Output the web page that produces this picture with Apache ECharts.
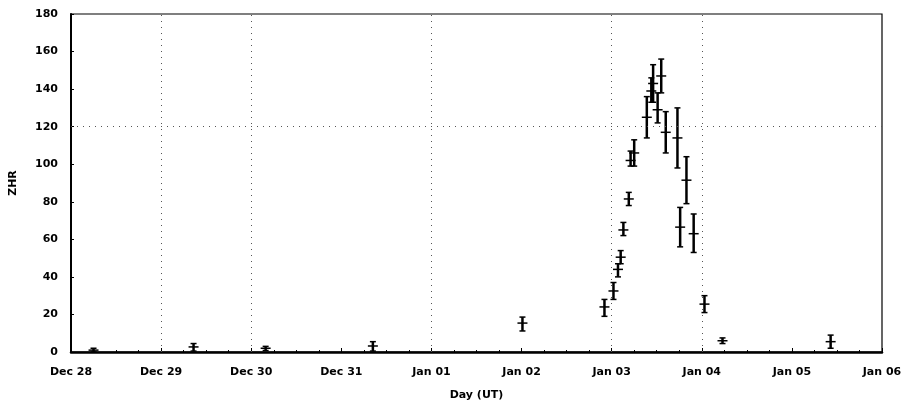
<!DOCTYPE html>
<html>
<head>
<meta charset="utf-8">
<script src="https://cdn.jsdelivr.net/npm/echarts@6/dist/echarts.min.js"></script>
<style>html,body{margin:0;padding:0;background:#fff;}#c{width:901px;height:403px;}</style>
</head>
<body>
<div id="c"></div>
<script>
// Day offsets from Dec 28 00:00 UT
var dayTickLabels = ['Dec 28','Dec 29','Dec 30','Dec 31','Jan 01','Jan 02','Jan 03','Jan 04','Jan 05','Jan 06'];
var dayOffset = [0.25, 1.36, 2.16, 3.35, 5.01, 5.92, 6.02, 6.07, 6.10, 6.13, 6.19, 6.21, 6.25, 6.39, 6.44, 6.46, 6.51, 6.55, 6.60, 6.73, 6.76, 6.83, 6.91, 7.03, 7.23, 8.43];
var zhr     = [1, 2.7, 2, 3.2, 15.4, 24, 32.5, 44, 50.5, 65, 81.5, 102, 106, 125, 139, 143, 129, 147, 117, 114, 66.5, 91.5, 63, 25.5, 6, 5.5];
var zhrLow  = [0, 0.5, 0.8, 0.5, 11.2, 19, 28, 40, 47, 62, 78, 99, 99, 114, 133, 133, 122, 138, 106, 98, 56, 79, 53, 21, 4.5, 2];
var zhrHigh = [2, 4.5, 3, 5.5, 18.6, 28, 37, 47, 54, 69, 85, 107, 113, 136, 146, 153, 138, 156, 128, 130, 77, 104, 73.5, 30, 7.5, 9];
// grid lines that show in the reference
var gridDays = [1, 2, 4, 6, 7];
var gridZhr = [120];

var pts = dayOffset.map(function(d, i){ return [d, zhr[i], zhrLow[i], zhrHigh[i]]; });
var gridMarks = gridDays.map(function(d){ return { xAxis: d }; })
  .concat(gridZhr.map(function(v){ return { yAxis: v }; }));

var chart = echarts.init(document.getElementById('c'));
var font = 'DejaVu Sans';
chart.setOption({
  animation: false,
  backgroundColor: '#fff',
  grid: { left: 71, right: 19, top: 14, bottom: 51, show: true, borderColor: '#000', borderWidth: 1.2,
          outerBoundsMode: 'none', containLabel: false },
  xAxis: {
    type: 'value', min: 0, max: 9, interval: 1,
    name: 'Day (UT)', nameLocation: 'middle', nameGap: 38,
    nameTextStyle: { fontFamily: font, fontSize: 11, fontWeight: 'bold', color: '#000' },
    axisLine: { lineStyle: { color: '#000', width: 2.5 } },
    axisTick: { inside: true, length: 4, lineStyle: { color: '#000' } },
    minorTick: { show: true, splitNumber: 4, length: 2, lineStyle: { color: '#000' } },
    axisLabel: { fontFamily: font, fontSize: 11, fontWeight: 'bold', color: '#000', margin: 15,
      formatter: function(v){ return dayTickLabels[Math.round(v)] || ''; } },
    splitLine: { show: false }
  },
  yAxis: {
    type: 'value', min: 0, max: 180, interval: 20,
    name: 'ZHR', nameLocation: 'middle', nameGap: 52, nameRotate: 90,
    nameTextStyle: { fontFamily: font, fontSize: 11, fontWeight: 'bold', color: '#000' },
    axisLine: { show: true, lineStyle: { color: '#000', width: 2 } },
    axisTick: { show: true, inside: true, length: 3, lineStyle: { color: '#000' } },
    axisLabel: { fontFamily: font, fontSize: 11, fontWeight: 'bold', color: '#000', margin: 13 },
    splitLine: { show: false }
  },
  series: [{
    type: 'custom',
    data: pts,
    encode: { x: 0, y: [1, 2, 3] },
    markLine: {
      silent: true, symbol: 'none', label: { show: false },
      lineStyle: { type: [1, 5], color: '#555', width: 1 },
      data: gridMarks
    },
    renderItem: function(params, api){
      var x = api.value(0);
      var c = api.coord([x, api.value(1)]);
      var lo = api.coord([x, api.value(2)]);
      var hi = api.coord([x, api.value(3)]);
      var cap = 3, tick = 5;
      var st = { stroke: '#000', lineWidth: 1.5 };
      return { type: 'group', children: [
        { type: 'line', shape: { x1: c[0], y1: hi[1], x2: c[0], y2: lo[1] }, style: { stroke: '#000', lineWidth: 2.5 } },
        { type: 'line', shape: { x1: c[0]-cap, y1: hi[1], x2: c[0]+cap, y2: hi[1] }, style: st },
        { type: 'line', shape: { x1: c[0]-cap, y1: lo[1], x2: c[0]+cap, y2: lo[1] }, style: st },
        { type: 'line', shape: { x1: c[0]-tick, y1: c[1], x2: c[0]+tick, y2: c[1] }, style: st }
      ]};
    }
  }]
});
</script>
</body>
</html>
